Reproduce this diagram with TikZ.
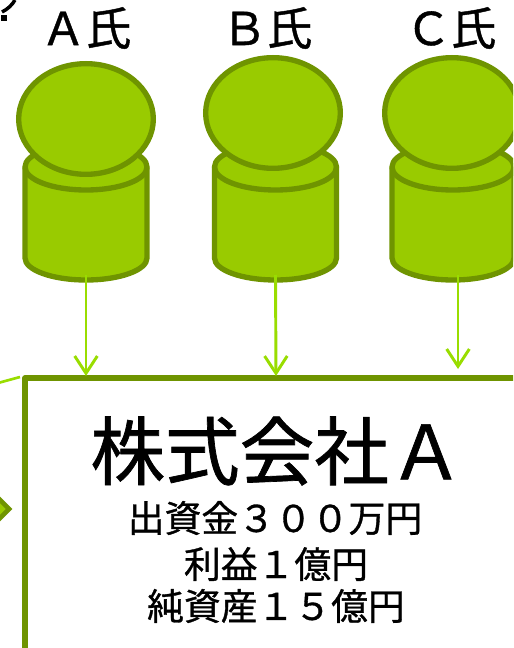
\documentclass[tikz,border=0pt]{standalone}
\usepackage{fontspec}
\setmainfont{Noto Sans CJK JP}[AutoFakeBold=0.9]
\usetikzlibrary{shapes.geometric,arrows.meta}
\definecolor{leaf}{HTML}{99CB00}
\definecolor{edgegreen}{HTML}{6F9400}
\definecolor{linkgreen}{HTML}{99DD00}
\tikzset{
  px/.style={x=0.75pt,y=-0.75pt},
  body/.style={draw=edgegreen,fill=leaf,line width=4pt,line join=round},
  rim/.style={draw=edgegreen,line width=4pt},
  head/.style={ellipse,draw=edgegreen,fill=leaf,line width=4pt,minimum width=101pt,minimum height=83pt,inner sep=0pt},
  owner/.style={font=\bfseries\fontsize{34pt}{34pt}\selectfont,inner sep=0pt},
  title/.style={font=\bfseries\fontsize{56pt}{56pt}\selectfont,inner sep=0pt},
  info/.style={font=\bfseries\fontsize{27.6pt}{27.6pt}\selectfont,inner sep=0pt},
  link/.style={draw=linkgreen,line width=2.2pt,-{Straight Barb[length=13pt,width=17pt,line width=2.2pt]}},
  frame/.style={draw=edgegreen,line width=4.2pt,line join=round}
}
\newcommand{\barrel}[2]{%
  \draw[body] (#1-61,167) arc[start angle=180,end angle=360,x radius=61,y radius=23]
     -- (#1+61,258) arc[start angle=0,end angle=180,x radius=61,y radius=22] -- cycle;
  \draw[rim] (#1-61,167) arc[start angle=180,end angle=0,x radius=61,y radius=23];
  \coordinate (#2) at (#1,275);
}
\begin{document}
\begin{tikzpicture}[px]
\useasboundingbox (0,0) rectangle (513,648);
\clip (0,0) rectangle (513,648);
\fill[white] (0,0) rectangle (513,648);
% box
\draw[frame] (25,660) -- (25,378) -- (530,378);
\coordinate (ta) at (86,376);
\coordinate (tb) at (276,376);
\coordinate (tc) at (458,369);
% left fragments
\coordinate (s1) at (-2,383);
\coordinate (s2) at (20,377);
\draw[linkgreen,line width=2pt] (s1) -- (s2);
\node[diamond,draw=edgegreen,fill=leaf,line width=3.4pt,minimum size=24pt,inner sep=0pt] (dm) at (-6,509) {};
% question-mark fragment
\draw[line width=2.6pt,black] (2,12) .. controls (8,9) and (12,5) .. (15,0);
\fill[black] (1,15) rectangle (7,21);
% cylinders
\barrel{86}{ca}
\barrel{275.5}{cb}
\barrel{453}{cc}
\node[head] (ha) at (86,119) {};
\node[head] (hb) at (273,113) {};
\node[head] (hc) at (452,113) {};
% labels
\node[owner] (la) at (86,28) {Ａ氏};
\node[owner] (lb) at (267,28) {Ｂ氏};
\node[owner] (lc) at (451,28) {Ｃ氏};
\draw[link] (ca) -- (ta);
\draw[link] (cb) -- (tb);
\draw[link] (cc -| tc) -- (tc);
\node[title] (t0) at (277,451) {株式会社Ａ};
\node[info] (t1) at (275,518) {出資金３００万円};
\node[info] (t2) at (276,564) {利益１億円};
\node[info] (t3) at (276,606) {純資産１５億円};
\end{tikzpicture}
\end{document}
